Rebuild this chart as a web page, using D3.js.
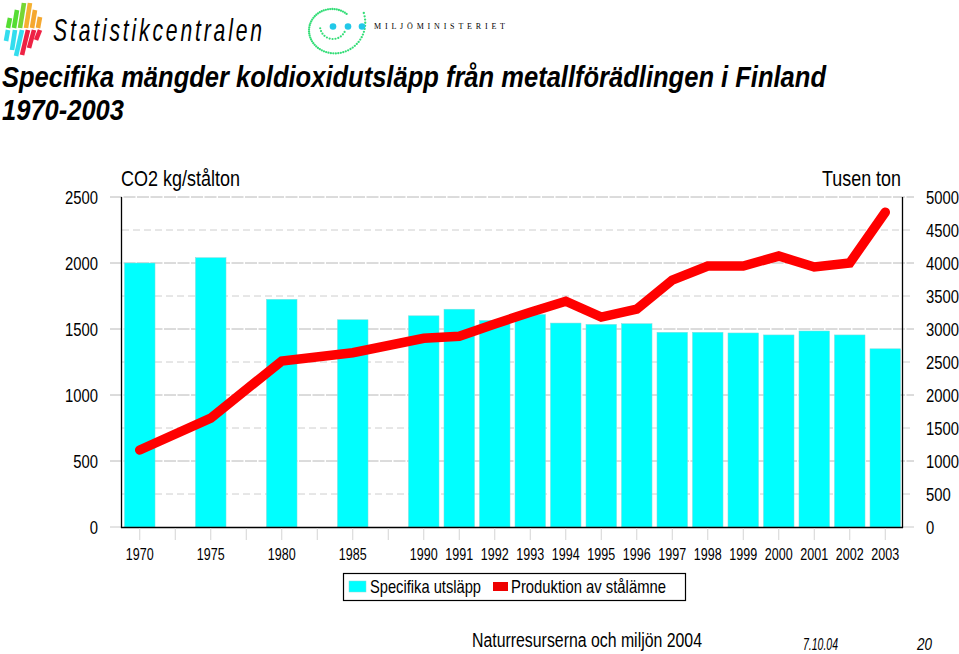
<!DOCTYPE html>
<html>
<head>
<meta charset="utf-8">
<script src="https://cdn.jsdelivr.net/npm/d3@7"></script>
<style>
html, body { margin: 0; padding: 0; background: #fff; }
text { font-family: "Liberation Sans", Arial, sans-serif; fill: #000; }
</style>
</head>
<body>
<div id="graphdiv"></div>
<script>
// a, b, c, d are the empty slots between the 5 year steps
var categories = ["1970", "a", "1975", "b", "1980", "c", "1985", "d", "1990", "1991", "1992", "1993", "1994", "1995", "1996", "1997", "1998", "1999", "2000", "2001", "2002", "2003"];
var emissions = [2000, null, 2040, null, 1725, null, 1570, null, 1600, 1650, 1565, 1610, 1545, 1535, 1540, 1475, 1475, 1470, 1455, 1485, 1455, 1350];
var production = [1167, null, 1650, null, 2515, null, 2640, null, 2860, 2890, 3075, 3255, 3420, 3180, 3300, 3740, 3955, 3955, 4105, 3940, 4000, 4770];
var leftTicks = [0, 500, 1000, 1500, 2000, 2500];
var rightTicks = [0, 500, 1000, 1500, 2000, 2500, 3000, 3500, 4000, 4500, 5000];

// logo strokes: top x, top y, bottom x, bottom y, colour
var logoStrokes = [
    [10, 18, 8, 28, "#55dd33"], [17, 10, 14, 28, "#55dd33"], [24, 3, 20, 28, "#77d633"],
    [30, 3, 26, 28, "#f5b030"], [35, 10, 32, 28, "#f5a830"], [40, 17, 38, 28, "#f5a830"],
    [8, 30, 6, 41, "#33ddee"], [15, 30, 12, 50, "#33ddee"], [22, 30, 16, 56, "#33ddee"],
    [28, 30, 22, 55, "#ee2244"], [34, 30, 29, 48, "#ee2244"], [40, 30, 36, 40, "#ee2244"]
];
var ministryDots = [333, 348, 362];

// squeezed text: the reference has tall narrow glyphs
function fit(sel, x, y, str, size, width, opts) {
    opts = opts || {};
    return sel.append("text").attr("x", x).attr("y", y).text(str)
        .attr("font-size", size)
        .attr("font-weight", opts.bold ? "bold" : null)
        .attr("font-style", opts.italic ? "italic" : null)
        .attr("textLength", width)
        .attr("lengthAdjust", opts.adjust || "spacingAndGlyphs");
}

function squeeze(cx, k) {
    return "translate(" + cx + ",0) scale(" + k + ",1) translate(" + (-cx) + ",0)";
}

var svg = d3.select("#graphdiv").append("svg").attr("width", 959).attr("height", 654).style("display", "block");

// statistikcentralen logo
svg.append("g").selectAll("path").data(logoStrokes).enter().append("path")
    .attr("d", function(d) { return "M" + d[0] + "," + d[1] + " L" + d[2] + "," + d[3]; })
    .attr("stroke", function(d) { return d[4]; })
    .attr("stroke-width", 4.6)
    .attr("fill", "none");
fit(svg, 53 / 0.66, 41, "Statistikcentralen", 32, 209 / 0.66, { italic: true, adjust: "spacing" })
    .attr("transform", "scale(0.66,1)");

// ministry logo, a spiral of small dots
var dots = svg.append("g").attr("fill", "#33dd77");
d3.range(0, 62).forEach(function(i) {
    var t = i / 61;
    var a = (-50 - 340 * t) * Math.PI / 180;
    var r = 21 + 13 * Math.pow(t, 4);
    dots.append("circle").attr("cx", 332 + 1.08 * r * Math.cos(a)).attr("cy", 30 + r * Math.sin(a)).attr("r", 1.15);
});
d3.range(0, 12).forEach(function(i) {
    var a = (170 - i * 13) * Math.PI / 180;
    dots.append("circle").attr("cx", 333 + 13 * Math.cos(a)).attr("cy", 26 + 13 * Math.sin(a)).attr("r", 1.1);
});
svg.append("g").selectAll("circle").data(ministryDots).enter().append("circle")
    .attr("cx", function(d) { return d; }).attr("cy", 26.5).attr("r", 3.3).attr("fill", "#22c8e8");
fit(svg, 374, 29, "MILJÖMINISTERIET", 8, 131, { adjust: "spacing" }).style("font-family", "'Liberation Serif', serif");

// title
fit(svg, 2, 87, "Specifika mängder koldioxidutsläpp från metallförädlingen i Finland", 29, 824, { bold: true, italic: true });
fit(svg, 2, 120, "1970-2003", 29, 122, { bold: true, italic: true });

// scales
var x = d3.scaleBand().domain(categories).range([122, 903]).paddingInner(0.14).paddingOuter(0.07);
var yLeft = d3.scaleLinear().domain([0, 2500]).range([527, 197]);
var yRight = d3.scaleLinear().domain([0, 5000]).range([527, 197]);
var cx = function(d) { return x(d) + x.bandwidth() / 2; };

// gridlines, long dash at left ticks and short dash at the half steps
svg.append("g").selectAll("line").data(rightTicks.slice(1)).enter().append("line")
    .attr("x1", function(d) { return d % 1000 == 0 ? 110 : 122; })
    .attr("x2", 914)
    .attr("y1", function(d) { return yRight(d); })
    .attr("y2", function(d) { return yRight(d); })
    .attr("stroke", function(d) { return d % 1000 == 0 ? "#b0b0b0" : "#c8c8c8"; })
    .attr("stroke-width", 0.9)
    .attr("stroke-dasharray", function(d) { return d % 1000 == 0 ? "12,1.5" : "7,4"; });
svg.append("line").attr("x1", 110).attr("x2", 122).attr("y1", 527).attr("y2", 527).attr("stroke", "#c8c8c8");
svg.append("line").attr("x1", 903).attr("x2", 914).attr("y1", 527).attr("y2", 527).attr("stroke", "#c8c8c8");

// bars
svg.append("g").selectAll("rect")
    .data(categories.map(function(c, i) { return { c: c, v: emissions[i] }; }).filter(function(d) { return d.v != null; }))
    .enter().append("rect")
    .attr("x", function(d) { return x(d.c); })
    .attr("y", function(d) { return yLeft(d.v); })
    .attr("width", x.bandwidth())
    .attr("height", function(d) { return yLeft(0) - yLeft(d.v); })
    .attr("fill", "#00ffff")
    .attr("stroke", "#7fdcdc").attr("stroke-width", 0.5);

// axes frame: left, right and baseline
svg.append("line").attr("x1", 121.5).attr("x2", 121.5).attr("y1", 197).attr("y2", 528).attr("stroke", "#000").attr("stroke-width", 1.3);
svg.append("line").attr("x1", 902.5).attr("x2", 902.5).attr("y1", 197).attr("y2", 528).attr("stroke", "#000").attr("stroke-width", 1.3);
svg.append("line").attr("x1", 121).attr("x2", 903).attr("y1", 527.5).attr("y2", 527.5).attr("stroke", "#000").attr("stroke-width", 1.3);

// x tick marks
svg.append("g").selectAll("line").data(categories).enter().append("line")
    .attr("x1", function(d) { return cx(d); })
    .attr("x2", function(d) { return cx(d); })
    .attr("y1", 528).attr("y2", 540)
    .attr("stroke", "#d4d4d4");

// production line, right axis
var line = d3.line()
    .x(function(d) { return cx(d.c); })
    .y(function(d) { return yRight(d.v); });
svg.append("path")
    .datum(categories.map(function(c, i) { return { c: c, v: production[i] }; }).filter(function(d) { return d.v != null; }))
    .attr("d", line)
    .attr("fill", "none")
    .attr("stroke", "#ff0000")
    .attr("stroke-width", 9.5)
    .attr("stroke-linecap", "round")
    .attr("stroke-linejoin", "miter");

// axis labels
svg.append("g").selectAll("text").data(leftTicks).enter().append("text")
    .attr("x", 98).attr("y", function(d) { return yLeft(d) + 7; })
    .attr("text-anchor", "end").attr("font-size", 19)
    .attr("transform", squeeze(98, 0.78))
    .text(function(d) { return d; });
svg.append("g").selectAll("text").data(rightTicks).enter().append("text")
    .attr("x", 926).attr("y", function(d) { return yRight(d) + 7; })
    .attr("font-size", 19)
    .attr("transform", squeeze(926, 0.78))
    .text(function(d) { return d; });
svg.append("g").selectAll("text").data(categories.filter(function(c) { return /^\d/.test(c); })).enter().append("text")
    .attr("x", function(d) { return cx(d); })
    .attr("y", 560).attr("text-anchor", "middle").attr("font-size", 16.5)
    .attr("transform", function(d) { return squeeze(cx(d), 0.76); })
    .text(function(d) { return d; });

fit(svg, 121, 186, "CO2 kg/stålton", 22, 119);
fit(svg, 822, 186, "Tusen ton", 22, 79);

// legend
svg.append("rect").attr("x", 343.5).attr("y", 573.5).attr("width", 342).attr("height", 27).attr("fill", "#fff").attr("stroke", "#000").attr("stroke-width", 1.2);
svg.append("rect").attr("x", 349).attr("y", 581).attr("width", 17).attr("height", 11).attr("fill", "#00ffff").attr("stroke", "#7fdcdc").attr("stroke-width", 0.5);
fit(svg, 370, 593, "Specifika utsläpp", 18.5, 111);
svg.append("rect").attr("x", 493).attr("y", 582).attr("width", 15).attr("height", 9).attr("fill", "#ee0000");
fit(svg, 511, 593, "Produktion av stålämne", 18.5, 155);

// footer
fit(svg, 472, 647, "Naturresurserna och miljön 2004", 20, 230);
fit(svg, 803, 650, "7.10.04", 16, 35, { italic: true });
fit(svg, 917, 650, "20", 16, 15, { italic: true });
</script>
</body>
</html>
